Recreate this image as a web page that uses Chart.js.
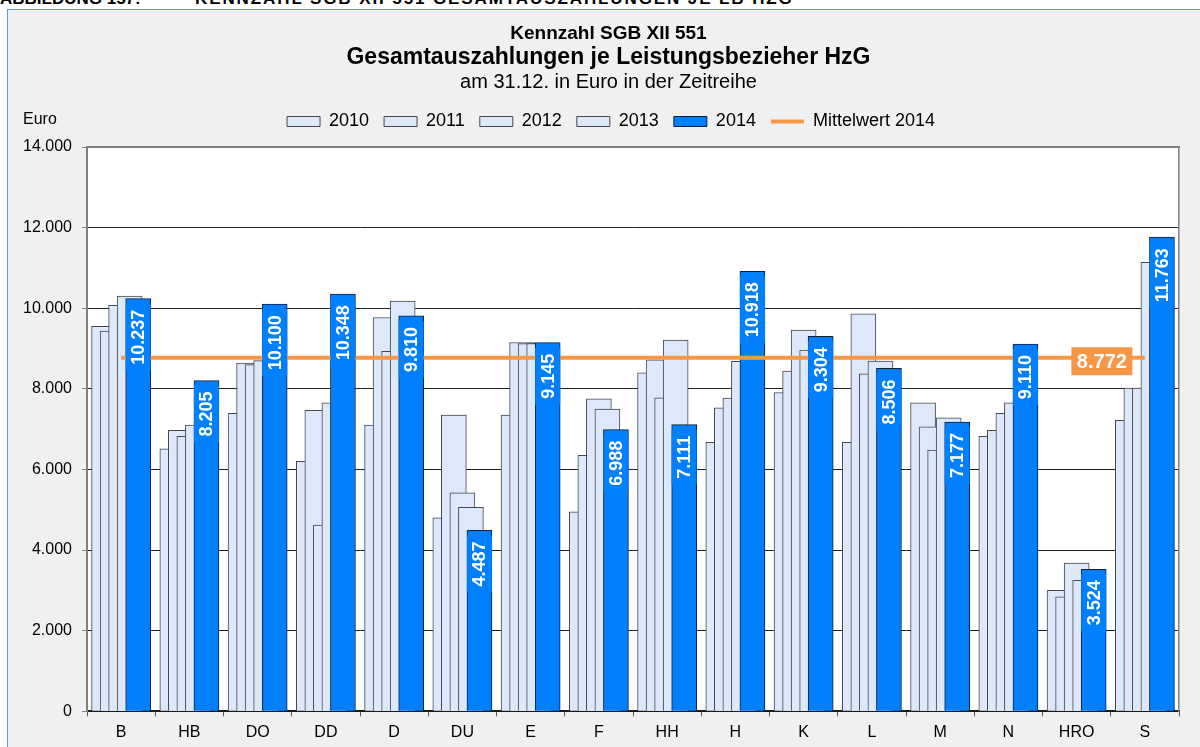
<!DOCTYPE html>
<html lang="de">
<head>
<meta charset="utf-8">
<title>Kennzahl SGB XII 551</title>
<script src="https://cdn.jsdelivr.net/npm/chart.js@4.4.1/dist/chart.umd.min.js"></script>
<style>
  html, body { margin: 0; padding: 0; width: 1200px; height: 747px; overflow: hidden; background: #fff; }
  body { position: relative; font-family: "Liberation Sans", Arial, sans-serif; color: #000; }
  .heading { position: absolute; top: -10px; left: 0; font-size: 17px; line-height: 17px; font-weight: bold; white-space: nowrap; }
  .heading span { position: absolute; top: 0; }
  .frame { position: absolute; left: 7px; top: 9px; width: 1300px; height: 800px; background: #f0f0f0;
           border-left: 1px solid #5b9bd5; border-top: 1px solid #5b9bd5; }
  #chart { position: absolute; left: 0; top: 0; }
  .t { position: absolute; left: 0; width: 1217px; text-align: center; white-space: nowrap; }
  .t1 { top: 23px; font-size: 19px; line-height: 19px; font-weight: bold; }
  .t2 { top: 45px; font-size: 23px; line-height: 23px; font-weight: bold; }
  .t3 { top: 71px; font-size: 20px; line-height: 20px; }
  .unit { position: absolute; left: 23px; top: 111px; font-size: 16px; line-height: 16px; }
</style>
</head>
<body>
<div class="heading">
  <span style="left:0">ABBILDUNG 157:</span>
  <span style="left:195px; letter-spacing:1.9px">KENNZAHL SGB XII 551 GESAMTAUSZAHLUNGEN JE LB HZG</span>
</div>
<div class="frame"></div>
<canvas id="chart" width="1222" height="747"></canvas>
<div class="t t1">Kennzahl SGB XII 551</div>
<div class="t t2">Gesamtauszahlungen je Leistungsbezieher HzG</div>
<div class="t t3">am 31.12. in Euro in der Zeitreihe</div>
<div class="unit">Euro</div>

<script>
const categories = ["B", "HB", "DO", "DD", "D", "DU", "E", "F", "HH", "H", "K", "L", "M", "N", "HRO", "S"];
const years = ["2010", "2011", "2012", "2013", "2014"];

const values2010 = [9550, 6510, 7390, 6200, 7100, 4800, 7350, 4950, 8400, 6670, 7910, 6670, 7650, 6820, 3000, 7220];
const values2011 = [9430, 6970, 8640, 7470, 9770, 7350, 9150, 6350, 8720, 7530, 8440, 9860, 7060, 6970, 2840, 8020];
const values2012 = [10070, 6820, 8600, 4620, 8930, 5420, 9120, 7750, 7780, 7770, 9460, 8370, 6480, 7390, 3680, 8020];
const values2013 = [10300, 7100, 8700, 7650, 10180, 5060, 9120, 7500, 9210, 8680, 8960, 8690, 7280, 7650, 3250, 11140];
const values2014 = [10237, 8205, 10100, 10348, 9810, 4487, 9145, 6988, 7111, 10918, 9304, 8506, 7177, 9110, 3524, 11763];

const MEAN_2014 = 8772;
const MEAN_LABEL = "Mittelwert 2014";
const yTicks = { min: 0, max: 14000, step: 2000 };

// Styling
const FONT = '"Liberation Sans", Arial, sans-serif';
const LIGHT = "#dde8fb";
const LIGHT_BORDER = "#45474d";
const BLUE = "#0080ff";
const BLUE_BORDER = "#0f1d3d";
const ORANGE = "#f79646";
const GROUP_STEP = 0.125; // shift between overlapping bars, in category units

Chart.defaults.font.family = FONT;
Chart.defaults.color = "#000";

const fmt = (v) => String(v).replace(/\B(?=(\d{3})+(?!\d))/g, ".");

const barSeries = [values2010, values2011, values2012, values2013, values2014];

const barDataset = (k) => ({
  type: "bar",
  label: years[k],
  data: barSeries[k].map((v, i) => ({ x: i + (k - 2) * GROUP_STEP, y: v })),
  xAxisID: "xb",
  yAxisID: "y",
  backgroundColor: k === 4 ? BLUE : LIGHT,
  borderColor: k === 4 ? BLUE_BORDER : LIGHT_BORDER,
  borderWidth: 1,
  barThickness: 25,
  grouped: false,
  order: 5 - k, // 2014 on top
});

// white plot area
const plotBackground = {
  id: "plotBackground",
  beforeDraw(chart) {
    const { ctx, chartArea: a } = chart;
    ctx.save();
    ctx.fillStyle = "#fff";
    ctx.fillRect(a.left, a.top, a.right - a.left, a.bottom - a.top);
    ctx.restore();
  },
};

// rotated value labels on the 2014 bars + label of the mean line
const valueLabels = {
  id: "valueLabels",
  afterDatasetsDraw(chart) {
    const ctx = chart.ctx;
    const meta = chart.getDatasetMeta(4);
    ctx.save();
    ctx.font = "bold 18px " + FONT;
    meta.data.forEach((bar, i) => {
      const text = fmt(values2014[i]);
      const tw = ctx.measureText(text).width;
      const top = bar.y + 11;
      ctx.fillStyle = BLUE;
      ctx.fillRect(bar.x - bar.width / 2, top - 6, bar.width, tw + 12);
      ctx.save();
      ctx.translate(bar.x + 1, top);
      ctx.rotate(-Math.PI / 2);
      ctx.fillStyle = "#fff";
      ctx.textAlign = "right";
      ctx.textBaseline = "middle";
      ctx.fillText(text, 0, 0);
      ctx.restore();
    });

    const mx = chart.scales.xb.getPixelForValue(14.37);
    const my = chart.scales.y.getPixelForValue(MEAN_2014) + 3.5;
    ctx.fillStyle = ORANGE;
    ctx.fillRect(mx - 30.5, my - 14, 61, 28);
    ctx.font = "bold 20px " + FONT;
    ctx.fillStyle = "#fff";
    ctx.textAlign = "center";
    ctx.textBaseline = "middle";
    ctx.fillText(fmt(MEAN_2014), mx, my + 1);
    ctx.restore();
  },
};

new Chart(document.getElementById("chart"), {
  type: "bar",
  data: {
    labels: categories,
    datasets: [
      barDataset(0),
      barDataset(1),
      barDataset(2),
      barDataset(3),
      barDataset(4),
      {
        type: "line",
        label: MEAN_LABEL,
        data: categories.map(() => MEAN_2014),
        xAxisID: "x",
        yAxisID: "y",
        borderColor: ORANGE,
        backgroundColor: ORANGE,
        borderWidth: 4,
        pointRadius: 0,
        fill: false,
        order: 0,
      },
    ],
  },
  options: {
    responsive: false,
    animation: false,
    events: [],
    layout: { padding: { top: 97.5, right: 0, bottom: 0, left: 0 } },
    scales: {
      x: {
        type: "category",
        position: "bottom",
        offset: true,
        grid: { offset: true, drawOnChartArea: false, drawTicks: true, tickLength: 5, color: "#595959" },
        border: { color: "#1a1a1a", width: 2 },
        ticks: { font: { size: 16 }, color: "#000", padding: 7, maxRotation: 0, autoSkip: false },
        afterFit: (s) => { s.height = 35.7; },
      },
      xb: { type: "linear", display: false, offset: false, min: -0.5, max: 15.5 },
      xt: {
        type: "category",
        position: "top",
        offset: true,
        grid: { display: false },
        ticks: { display: false },
        border: { color: "#808080", width: 2 },
        afterFit: (s) => { s.height = 6.5; },
      },
      y: {
        type: "linear",
        position: "left",
        min: yTicks.min,
        max: yTicks.max,
        ticks: { stepSize: yTicks.step, font: { size: 16 }, color: "#000", padding: 10, callback: (v) => fmt(v) },
        grid: { color: "#1f1f1f", lineWidth: 1, tickLength: 5, tickColor: "#808080" },
        border: { color: "#808080", width: 2 },
        afterFit: (s) => { s.width = 87; },
      },
      yr: {
        type: "linear",
        position: "right",
        grid: { display: false },
        ticks: { display: false },
        border: { color: "#808080", width: 1.5 },
        afterFit: (s) => { s.width = 43; },
      },
    },
    plugins: {
      title: { display: false },
      tooltip: { enabled: false },
      legend: {
        position: "top",
        labels: {
          usePointStyle: true,
          pointStyleWidth: 33,
          boxHeight: 10,
          padding: 15,
          color: "#000",
          font: { size: 18 },
          generateLabels: (chart) =>
            Chart.defaults.plugins.legend.labels.generateLabels(chart).map((item) => {
              const isLine = item.datasetIndex === 5;
              item.pointStyle = isLine ? "line" : "rect";
              item.lineWidth = isLine ? 4 : 1;
              return item;
            }),
          sort: (a, b) => a.datasetIndex - b.datasetIndex,
        },
      },
    },
  },
  plugins: [plotBackground, valueLabels],
});
</script>
</body>
</html>
